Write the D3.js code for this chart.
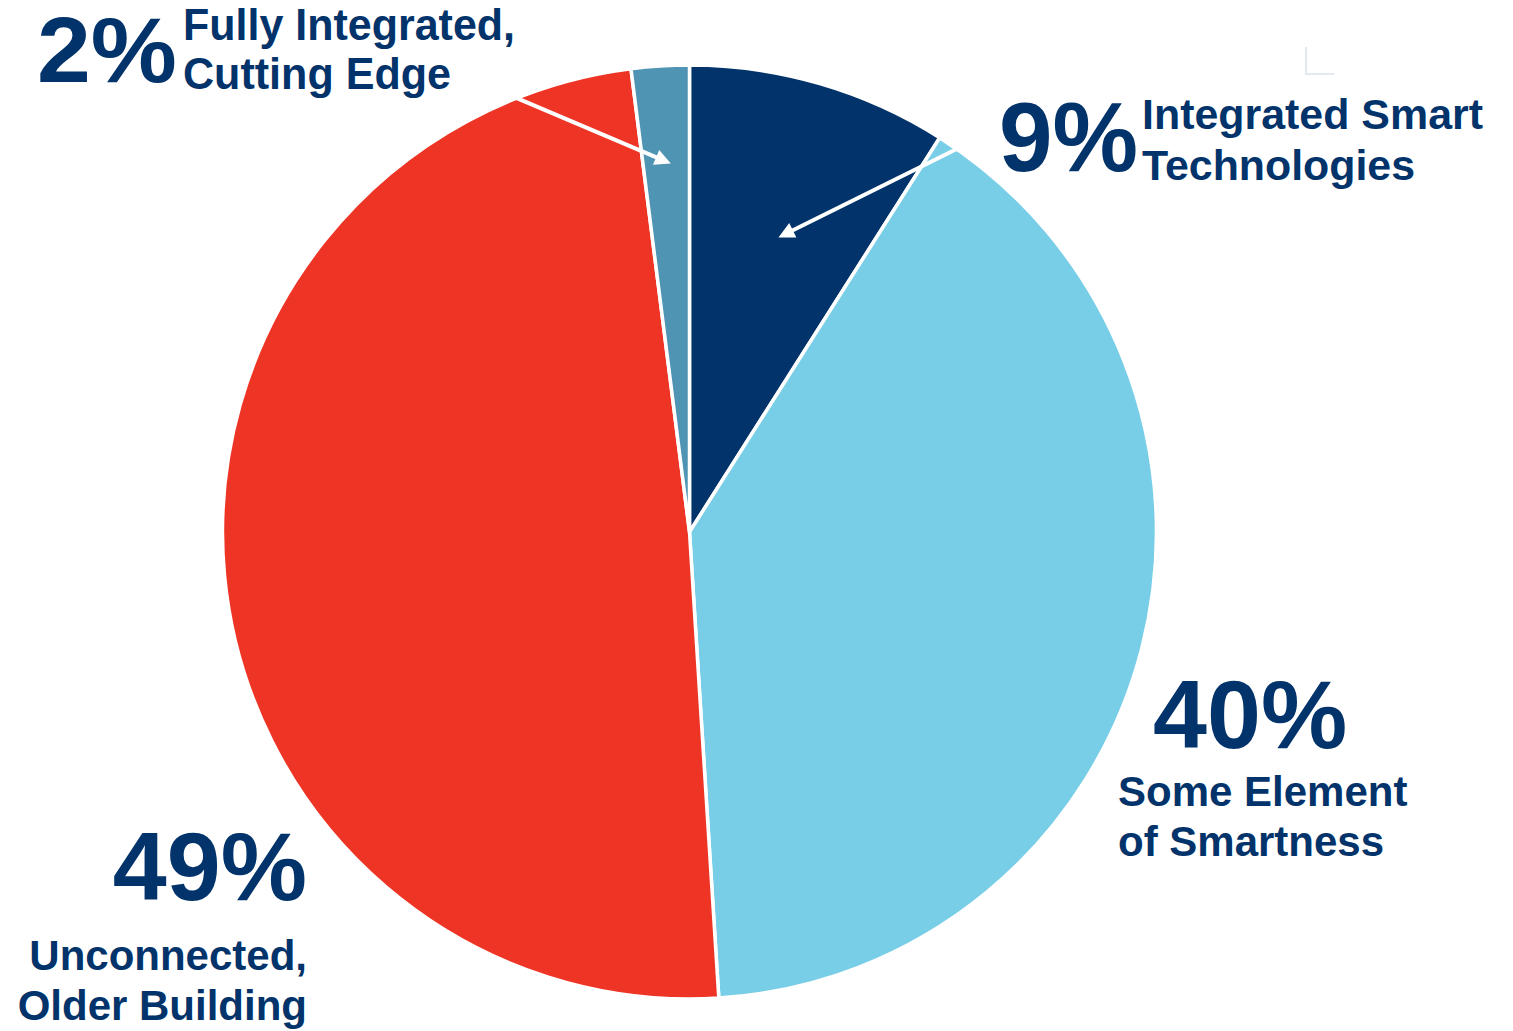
<!DOCTYPE html>
<html>
<head>
<meta charset="utf-8">
<script src="https://cdn.jsdelivr.net/npm/d3@7"></script>
<style>
  html, body { margin: 0; padding: 0; background: #ffffff; overflow: hidden; }
  svg { display: block; }
</style>
</head>
<body>
<svg id="chart" width="1513" height="1031"></svg>
<script>
// Building smartness categories, clockwise from 12 o'clock
const categories = [
  "Integrated Smart Technologies",
  "Some Element of Smartness",
  "Unconnected, Older Building",
  "Fully Integrated, Cutting Edge"
];
const shares = [9, 40, 49, 2];
const valueLabels = ["9%", "40%", "49%", "2%"];
const descLines = [
  ["Integrated Smart", "Technologies"],
  ["Some Element", "of Smartness"],
  ["Unconnected,", "Older Building"],
  ["Fully Integrated,", "Cutting Edge"]
];
const sliceColors = ["#02336a", "#79cee7", "#ee3425", "#5094b3"];

// ---- layout ----
const W = 1513, H = 1031;
const cx = 689.5, cy = 532, R = 467;
const ink = "#02336a";
const FONT = "'Liberation Sans', Arial, Helvetica, sans-serif";

// where each slice's label block sits
const labelLayout = [
  { pct: { x: 999, y: 171, size: 99, len: 139, anchor: "start" },
    desc: { x: 1142, y: 128.5, size: 42, dy: 51, lens: [341, 273], anchor: "start" } },
  { pct: { x: 1153, y: 747.5, size: 97, anchor: "start" },
    desc: { x: 1118, y: 805.5, size: 42, dy: 50, anchor: "start" } },
  { pct: { x: 307, y: 900, size: 97, anchor: "end" },
    desc: { x: 307, y: 970, size: 42, dy: 50, anchor: "end" } },
  { pct: { x: 37, y: 82, size: 93, len: 140, anchor: "start" },
    desc: { x: 183, y: 39.5, size: 43.5, dy: 49, lens: [332, 268], anchor: "start" } }
];

// callout arrows: from the rim into a thin slice
const arrowNotes = [
  { slice: 3, fromDeg: 338.3, toDeg: 357.1, toFrac: 0.79 },
  { slice: 0, fromDeg: 34.9, toDeg: 16.8, toFrac: 0.659 }
];

const svg = d3.select("#chart");
svg.append("rect").attr("width", W).attr("height", H).attr("fill", "#fff");

// small corner mark at upper right
svg.append("path")
  .attr("d", "M1306,47V74H1334")
  .attr("fill", "none")
  .attr("stroke", "#e4e8ef")
  .attr("stroke-width", 2);

const pie = d3.pie().sort(null).value(d => d).startAngle(0).endAngle(2 * Math.PI);
const arcs = pie(shares);
const arc = d3.arc().innerRadius(0).outerRadius(R);

const g = svg.append("g").attr("transform", `translate(${cx},${cy})`);
g.selectAll("path.slice")
  .data(arcs)
  .join("path")
  .attr("class", "slice")
  .attr("d", arc)
  .attr("fill", (d, i) => sliceColors[i])
  .attr("stroke", "#ffffff")
  .attr("stroke-width", 3.5)
  .attr("stroke-linejoin", "round")
  .append("title").text((d, i) => `${categories[i]}: ${shares[i]}%`);

// polar helper (angle in degrees, clockwise from top)
const polar = (deg, r) => {
  const a = deg * Math.PI / 180;
  return [r * Math.sin(a), -r * Math.cos(a)];
};

arrowNotes.forEach(n => {
  const [x0, y0] = polar(n.fromDeg, R);
  const [x1, y1] = polar(n.toDeg, R * n.toFrac);
  const ang = Math.atan2(y1 - y0, x1 - x0);
  const headLen = 16, headHalf = 8;
  const bx = x1 - headLen * Math.cos(ang), by = y1 - headLen * Math.sin(ang);
  g.append("line")
    .attr("x1", x0).attr("y1", y0).attr("x2", bx + Math.cos(ang)).attr("y2", by + Math.sin(ang))
    .attr("stroke", "#ffffff").attr("stroke-width", 4);
  const px = -Math.sin(ang), py = Math.cos(ang);
  g.append("path")
    .attr("d", `M${x1},${y1}L${bx + px * headHalf},${by + py * headHalf}L${bx - px * headHalf},${by - py * headHalf}Z`)
    .attr("fill", "#ffffff");
});

// labels
const labels = svg.append("g").attr("font-family", FONT).attr("font-weight", "bold").attr("fill", ink);
labelLayout.forEach((L, i) => {
  const p = labels.append("text")
    .attr("x", L.pct.x).attr("y", L.pct.y)
    .attr("font-size", L.pct.size)
    .attr("text-anchor", L.pct.anchor)
    .text(valueLabels[i]);
  if (L.pct.len) p.attr("textLength", L.pct.len).attr("lengthAdjust", "spacingAndGlyphs");
  descLines[i].forEach((line, k) => {
    const t = labels.append("text")
      .attr("x", L.desc.x).attr("y", L.desc.y + k * L.desc.dy)
      .attr("font-size", L.desc.size)
      .attr("text-anchor", L.desc.anchor)
      .text(line);
    if (L.desc.lens) t.attr("textLength", L.desc.lens[k]).attr("lengthAdjust", "spacingAndGlyphs");
  });
});
</script>
</body>
</html>
